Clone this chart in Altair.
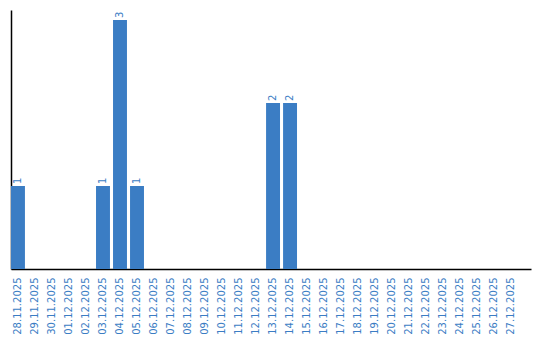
import altair as alt
import pandas as pd

dates = ["28.11.2025", "29.11.2025", "30.11.2025", "01.12.2025", "02.12.2025",
         "03.12.2025", "04.12.2025", "05.12.2025", "06.12.2025", "07.12.2025",
         "08.12.2025", "09.12.2025", "10.12.2025", "11.12.2025", "12.12.2025",
         "13.12.2025", "14.12.2025", "15.12.2025", "16.12.2025", "17.12.2025",
         "18.12.2025", "19.12.2025", "20.12.2025", "21.12.2025", "22.12.2025",
         "23.12.2025", "24.12.2025", "25.12.2025", "26.12.2025", "27.12.2025"]
counts = [1, 0, 0, 0, 0, 1, 3, 1, 0, 0, 0, 0, 0, 0, 0,
          2, 2, 0, 0, 0, 0, 0, 0, 0, 0, 0, 0, 0, 0, 0]

df = pd.DataFrame({"date": dates, "count": counts})
nz = df[df["count"] > 0]

BLUE = "#3b7dc4"

x = alt.X("date:N", sort=dates, title=None,
          scale=alt.Scale(paddingInner=0.18, paddingOuter=0.38, align=0),
          axis=alt.Axis(labelAngle=270, labelAlign="right", labelBaseline="middle",
                        labelColor=BLUE, labelFont="DejaVu Sans", labelFontSize=10,
                        labelPadding=8, ticks=False, domainColor="black",
                        domainWidth=1.5, grid=False, labelOverlap=False))
y = alt.Y("count:Q", title=None, scale=alt.Scale(domain=[0, 3.12], nice=False),
          axis=alt.Axis(labels=False, ticks=False, grid=False, domainColor="black",
                        domainWidth=1.5))

bars = alt.Chart(df).mark_bar(color=BLUE).encode(x=x, y=y)
text = alt.Chart(nz).mark_text(angle=270, align="left", baseline="middle", dx=2,
                               font="DejaVu Sans", fontSize=10, color=BLUE).encode(
    x=alt.X("date:N", sort=dates), y="count:Q", text="count:Q")

chart = alt.layer(bars, text).properties(
    width=520, height=259,
    autosize=alt.AutoSizeParams(type="none"),
    padding={"left": 11, "top": 10, "right": 9, "bottom": 71},
    background="white",
).configure_view(stroke=None, strokeWidth=0)

chart.save("out.html", embed_options={"renderer": "svg", "actions": False})
